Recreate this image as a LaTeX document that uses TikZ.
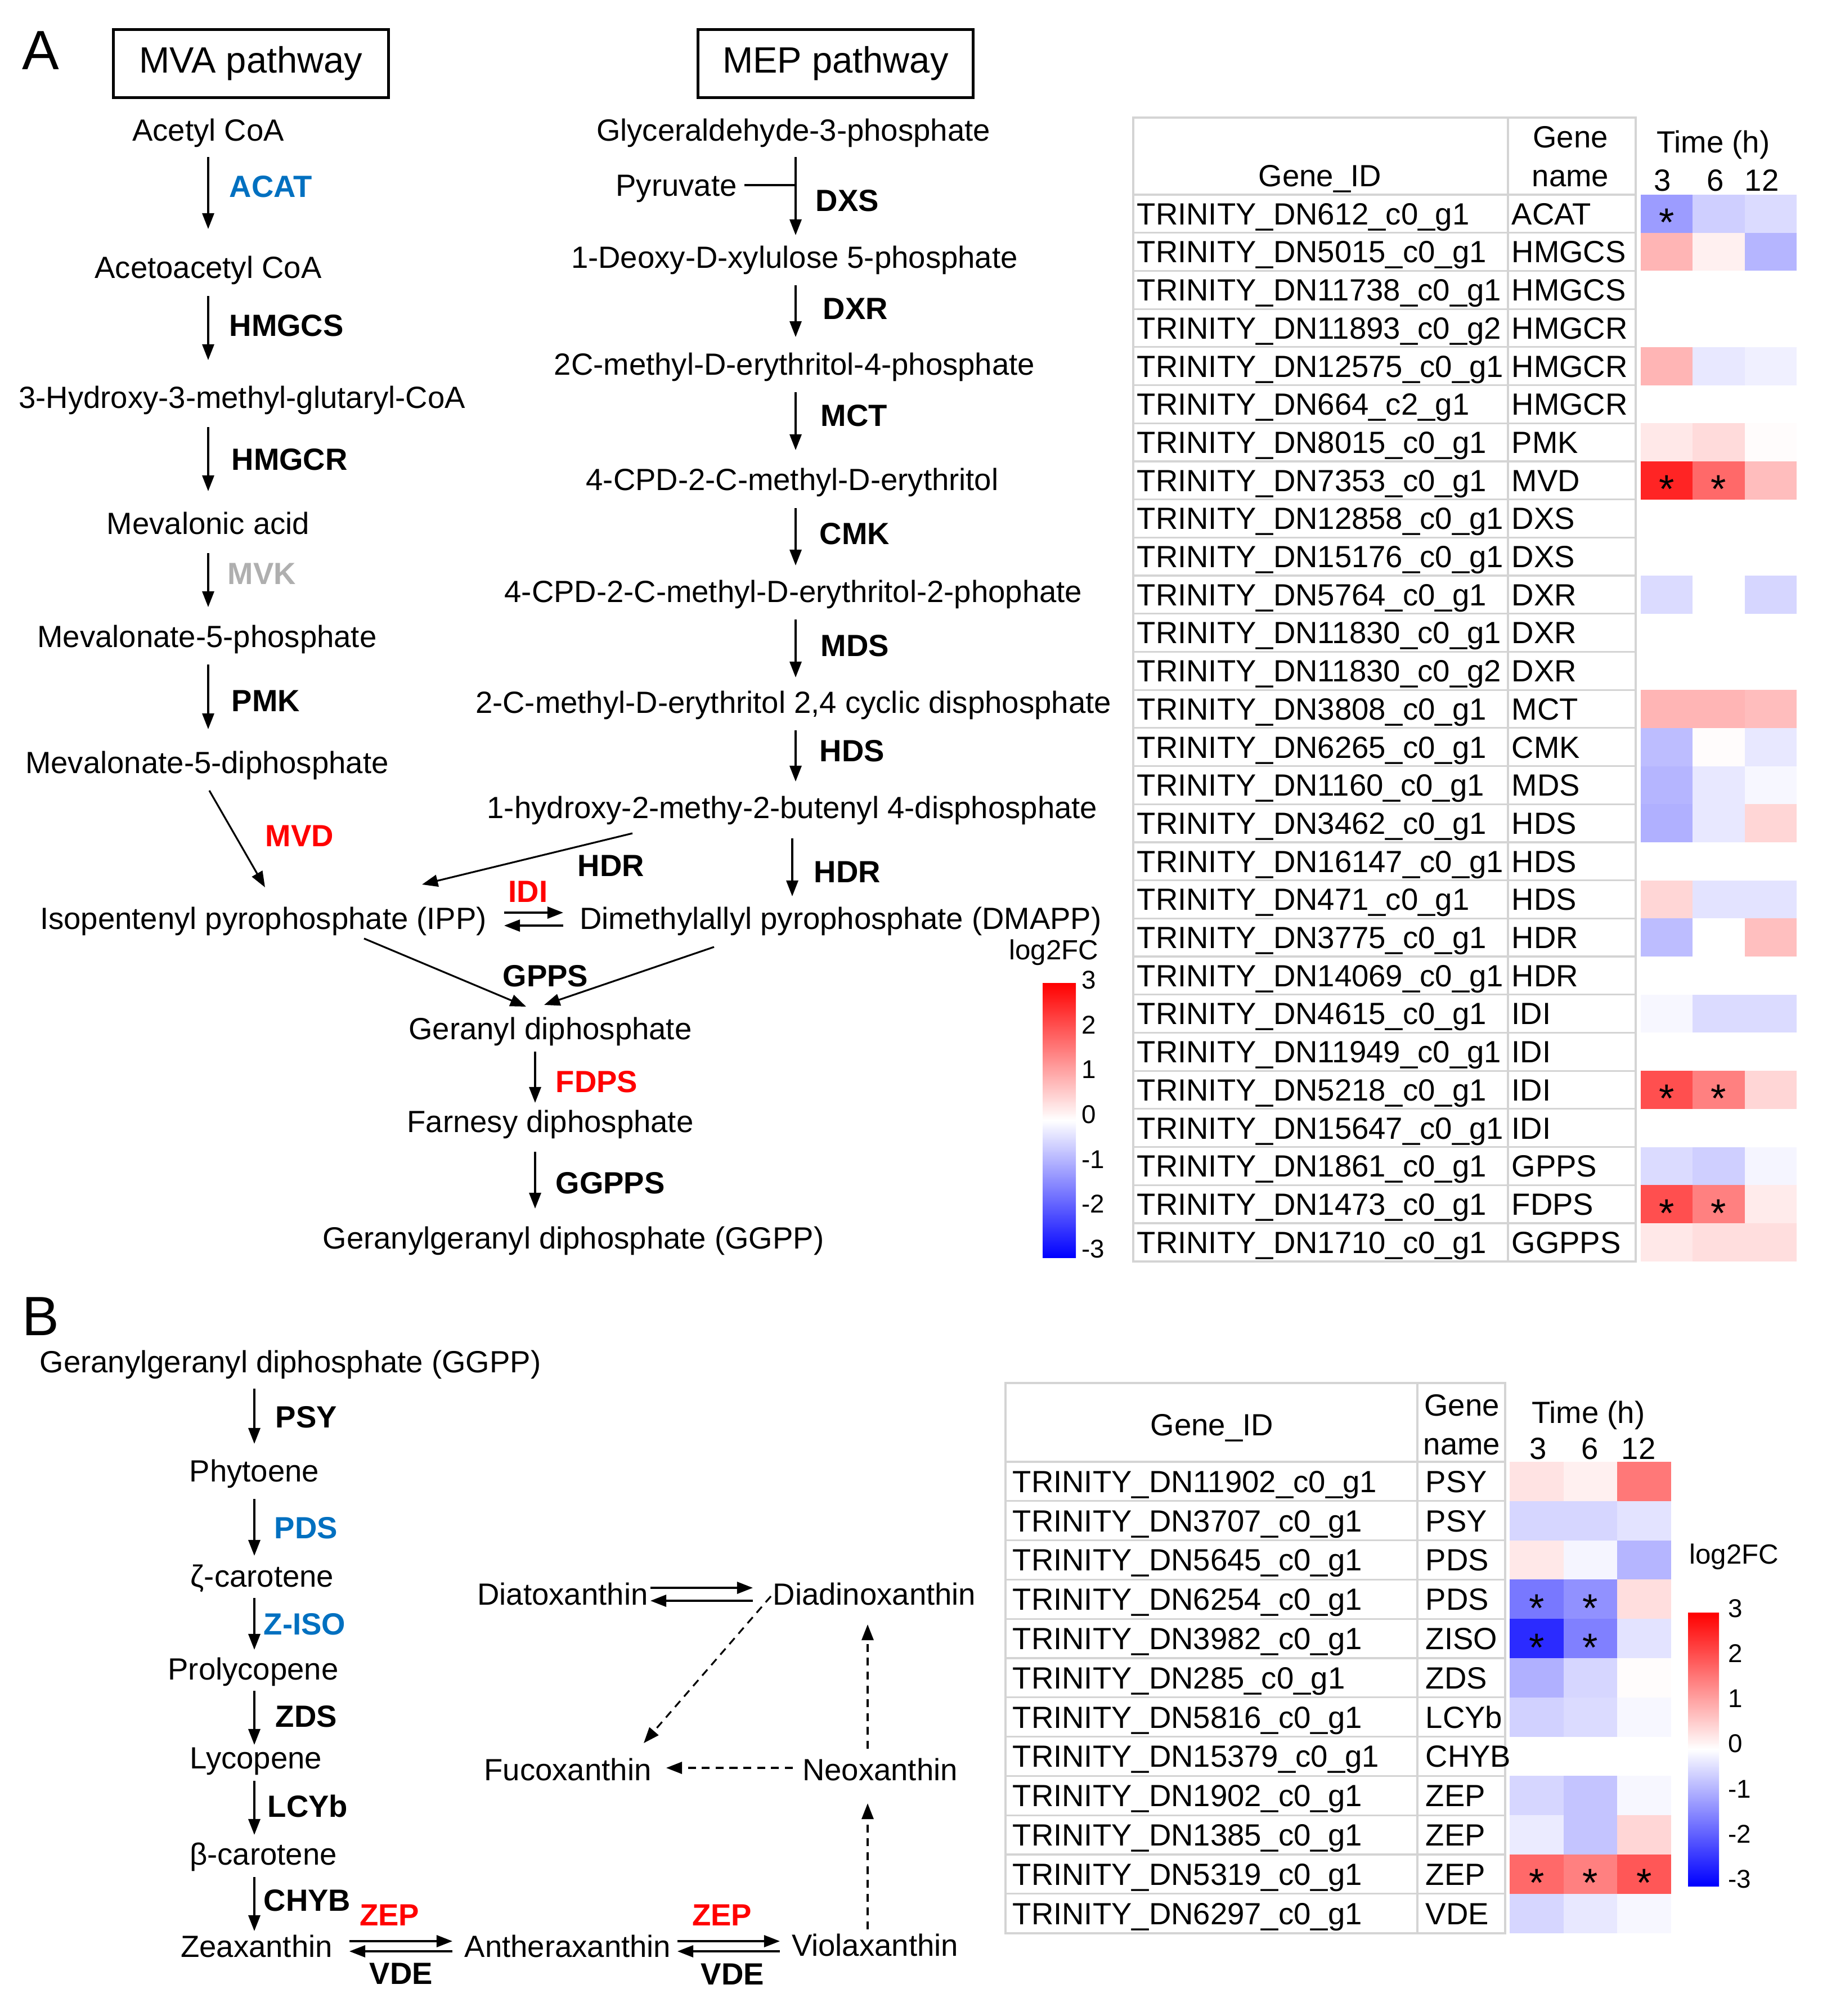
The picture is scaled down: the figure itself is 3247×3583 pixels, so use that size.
\documentclass[tikz,border=0pt]{standalone}
\usepackage{fontspec}
\setmainfont{Liberation Sans}
\usetikzlibrary{arrows.meta,calc}
\definecolor{eblue}{RGB}{0,112,192}
\definecolor{egray}{RGB}{175,175,175}
\definecolor{gridc}{RGB}{212,212,212}
\newcommand\fs{\fontsize{15.5pt}{18pt}\selectfont}
\newcommand\fsb{\fontsize{15.5pt}{18pt}\selectfont\bfseries}
\newcommand\fst{\fontsize{13pt}{15pt}\selectfont}
\newcommand\hmcell[5]{%
  \pgfmathsetmacro\hv{#5}%
  \pgfmathtruncatemacro\hp{abs(\hv)/3*100}%
  \ifdim \hv pt<0pt \def\hc{blue}\else\def\hc{red}\fi
  \fill[\hc!\hp!white] (#1,#2) rectangle ++(#3,#4);
}
\begin{document}
\begin{tikzpicture}[x=0.01cm,y=-0.01cm,
  txt/.style={font=\fs, inner sep=0pt, text height=11pt, text depth=0pt},
  enz/.style={font=\fsb, inner sep=0pt, text height=11pt, text depth=0pt, anchor=west},
  enzc/.style={font=\fsb, inner sep=0pt, text height=11pt, text depth=0pt},
  tbl/.style={font=\fs, inner sep=0pt, text height=11pt, text depth=0pt, anchor=west},
  tick/.style={font=\fst, inner sep=0pt, text height=9.3pt, text depth=0pt, anchor=west},
  ast/.style={font=\fontsize{20pt}{20pt}\selectfont, inner sep=0pt, anchor=base},
  arr/.style={line width=0.9pt, -{Triangle[length=8pt,width=6pt]}},
  darr/.style={arr, dash pattern=on 4pt off 3pt},
  sh/.style 2 args={shorten <=#1, shorten >=#2},
  grid/.style={draw=gridc, line width=0.9pt},
  pbox/.style={draw, line width=1.4pt, font=\fontsize{18.5pt}{22pt}\selectfont, minimum width=4.89cm, minimum height=1.21cm, inner sep=0pt},
  panel/.style={font=\fontsize{28pt}{32pt}\selectfont, inner sep=0pt, text height=20pt, text depth=0pt}]
\useasboundingbox (0,0) rectangle (3247,3583);
\fill[white] (0,0) rectangle (3247,3583);

% ---------------- Panel A ----------------
\node[panel] (pA) at (72,88) {A};
\node[pbox] (mvabox) at (446,113) {MVA pathway};
\node[pbox] (mepbox) at (1485,113) {MEP pathway};

% MVA
\node[txt] (acetyl) at (370,231) {Acetyl CoA};
\node[txt] (acetoacetyl) at (370,475) {Acetoacetyl CoA};
\node[txt] (hmg) at (430,706) {3-Hydroxy-3-methyl-glutaryl-CoA};
\node[txt] (mevac) at (370,930) {Mevalonic acid};
\node[txt] (m5p) at (368,1131) {Mevalonate-5-phosphate};
\node[txt] (m5pp) at (368,1355) {Mevalonate-5-diphosphate};
\node[txt] (ipp) at (468,1632) {Isopentenyl pyrophosphate (IPP)};

\node[enz, text=eblue] (acat) at (407,331) {ACAT};
\node[enz] (hmgcs) at (407,578) {HMGCS};
\node[enz] (hmgcr) at (411,816) {HMGCR};
\node[enz, text=egray] (mvk) at (404,1019) {MVK};
\node[enz] (pmk) at (411,1245) {PMK};
\node[enz, text=red] (mvd) at (471,1485) {MVD};

\coordinate (mvax) at (370,0);
\draw[arr, sh={0.48cm}{0.68cm}] (acetyl.center -| mvax) -- (acetoacetyl.center -| mvax);
\draw[arr, sh={0.51cm}{0.66cm}] (acetoacetyl.center -| mvax) -- (hmg.center -| mvax);
\draw[arr, sh={0.53cm}{0.57cm}] (hmg.center -| mvax) -- (mevac.center -| mvax);
\draw[arr, sh={0.53cm}{0.52cm}] (mevac.center -| mvax) -- (m5p.center -| mvax);
\draw[arr, sh={0.50cm}{0.59cm}] (m5p.center -| mvax) -- (m5pp.center -| mvax);
\draw[arr] ([shift={(4,50)}]m5pp.center) -- ([shift={(3,-55)}]ipp.center);

% MEP
\node[txt] (glyc) at (1410,231) {Glyceraldehyde-3-phosphate};
\node[txt] (pyr) at (1202,329) {Pyruvate};
\node[txt] (dxp) at (1412,457) {1-Deoxy-D-xylulose 5-phosphate};
\node[txt] (mep4p) at (1412,647) {2C-methyl-D-erythritol-4-phosphate};
\node[txt] (cdpme) at (1408,852) {4-CPD-2-C-methyl-D-erythritol};
\node[txt] (cdpmep) at (1410,1051) {4-CPD-2-C-methyl-D-erythritol-2-phophate};
\node[txt] (mecpp) at (1410,1248) {2-C-methyl-D-erythritol 2,4 cyclic disphosphate};
\node[txt] (hmbpp) at (1408,1435) {1-hydroxy-2-methy-2-butenyl 4-disphosphate};
\node[txt] (dmapp) at (1494,1632) {Dimethylallyl pyrophosphate (DMAPP)};
\node[txt] (gpp) at (978,1828) {Geranyl diphosphate};
\node[txt] (fpp) at (978,1993) {Farnesy diphosphate};
\node[txt] (ggpp) at (1019,2200) {Geranylgeranyl diphosphate (GGPP)};

\node[enz] (dxs) at (1449,356) {DXS};
\node[enz] (dxr) at (1462,548) {DXR};
\node[enz] (mct) at (1458,738) {MCT};
\node[enz] (cmk) at (1456,948) {CMK};
\node[enz] (mds) at (1458,1147) {MDS};
\node[enz] (hds) at (1456,1334) {HDS};
\node[enz] (hdra) at (1026,1538) {HDR};
\node[enz] (hdrb) at (1446,1549) {HDR};
\node[enz, text=red] (idi) at (903,1584) {IDI};
\node[enz] (gpps) at (893,1734) {GPPS};
\node[enz, text=red] (fdps) at (987,1922) {FDPS};
\node[enz] (ggpps) at (987,2102) {GGPPS};

\coordinate (mepx) at (1414,0);
\draw[arr, sh={0.48cm}{0.39cm}] (glyc.center -| mepx) -- (dxp.center -| mepx);
\draw[line width=0.9pt, shorten <=0.13cm] (pyr.east) -- (pyr.east -| mepx);
\draw[arr, sh={0.50cm}{0.48cm}] (dxp.center -| mepx) -- (mep4p.center -| mepx);
\draw[arr, sh={0.50cm}{0.52cm}] (mep4p.center -| mepx) -- (cdpme.center -| mepx);
\draw[arr, sh={0.51cm}{0.46cm}] (cdpme.center -| mepx) -- (cdpmep.center -| mepx);
\draw[arr, sh={0.50cm}{0.44cm}] (cdpmep.center -| mepx) -- (mecpp.center -| mepx);
\draw[arr, sh={0.50cm}{0.46cm}] (mecpp.center -| mepx) -- (hmbpp.center -| mepx);
\draw[arr, sh={0.55cm}{0.39cm}] (hmbpp.center) -- (hmbpp.center |- dmapp.center);
\draw[arr] ([shift={(-284,46)}]hmbpp.center) -- ([shift={(282,-60)}]ipp.center);
\draw[arr] ([shift={(428,-10)}]ipp.center) -- ([shift={(-493,-10)}]dmapp.center);
\draw[arr] ([shift={(-493,13)}]dmapp.center) -- ([shift={(428,13)}]ipp.center);
\draw[arr] ([shift={(179,36)}]ipp.center) -- ([shift={(-43,-39)}]gpp.center);
\draw[arr] ([shift={(-225,51)}]dmapp.center) -- ([shift={(-11,-42)}]gpp.center);
\coordinate (gx) at (951,0);
\draw[arr, sh={0.41cm}{0.33cm}] (gpp.center -| gx) -- (fpp.center -| gx);
\draw[arr, sh={0.54cm}{0.52cm}] (fpp.center -| gx) -- (ggpp.center -| gx);

% colorbar A
\shade[top color=red, bottom color=blue, middle color=white] (1853,1747) rectangle (1912,2235);
\node[font=\fontsize{14pt}{16pt}\selectfont, inner sep=0pt, text height=10pt, text depth=2pt] (lfca) at (1873,1691) {log2FC};
\foreach \t [count=\k from 0] in {3,2,1,0,-1,-2,-3}
  \node[tick] (cba-\k) at (1922,{1741+79.7*\k}) {\t};

% table A
\draw[grid] (2014,209) rectangle (2907,2242);
\draw[grid] (2680,209) -- (2680,2242);
\foreach \k in {0,...,27} \draw[grid] (2014,{346+67.7*\k}) -- (2907,{346+67.7*\k});
\foreach \a/\b/\c [count=\k from 0] in {
 -1.2/-0.6/-0.45, 0.9/0.2/-0.9, 0/0/0, 0/0/0, 0.9/-0.3/-0.2, 0/0/0, 0.3/0.45/0.05,
 2.6/1.8/0.8, 0/0/0, 0/0/0, -0.45/0/-0.5, 0/0/0, 0/0/0, 0.9/0.9/0.8, -0.8/0.05/-0.3,
 -0.9/-0.3/-0.1, -0.95/-0.3/0.5, 0/0/0, 0.5/-0.35/-0.35, -0.8/0/0.75, 0/0/0,
 -0.1/-0.45/-0.45, 0/0/0, 2.1/1.5/0.5, 0/0/0, -0.45/-0.6/-0.15, 2.1/1.5/0.25, 0.3/0.4/0.4} {
  \pgfmathsetmacro\yy{346+67.7*\k}
  \hmcell{2916}{\yy}{92.8}{68.2}{\a}
  \hmcell{3008.3}{\yy}{92.8}{68.2}{\b}
  \hmcell{3100.6}{\yy}{92.3}{68.2}{\c}
}
\node[txt] (tah1) at (2346,312) {Gene\_ID};
\node[txt] (tah2) at (2791,243) {Gene};
\node[txt] (tah3) at (2791,312) {name};
\node[txt] (tah4) at (3045,252) {Time (h)};
\node[txt] (tat1) at (2955,320) {3};
\node[txt] (tat2) at (3049,320) {6};
\node[txt] (tat3) at (3131,320) {12};
\foreach \id/\nm [count=\k from 0] in {
 TRINITY\_DN612\_c0\_g1/ACAT, TRINITY\_DN5015\_c0\_g1/HMGCS, TRINITY\_DN11738\_c0\_g1/HMGCS,
 TRINITY\_DN11893\_c0\_g2/HMGCR, TRINITY\_DN12575\_c0\_g1/HMGCR, TRINITY\_DN664\_c2\_g1/HMGCR,
 TRINITY\_DN8015\_c0\_g1/PMK, TRINITY\_DN7353\_c0\_g1/MVD, TRINITY\_DN12858\_c0\_g1/DXS,
 TRINITY\_DN15176\_c0\_g1/DXS, TRINITY\_DN5764\_c0\_g1/DXR, TRINITY\_DN11830\_c0\_g1/DXR,
 TRINITY\_DN11830\_c0\_g2/DXR, TRINITY\_DN3808\_c0\_g1/MCT, TRINITY\_DN6265\_c0\_g1/CMK,
 TRINITY\_DN1160\_c0\_g1/MDS, TRINITY\_DN3462\_c0\_g1/HDS, TRINITY\_DN16147\_c0\_g1/HDS,
 TRINITY\_DN471\_c0\_g1/HDS, TRINITY\_DN3775\_c0\_g1/HDR, TRINITY\_DN14069\_c0\_g1/HDR,
 TRINITY\_DN4615\_c0\_g1/IDI, TRINITY\_DN11949\_c0\_g1/IDI, TRINITY\_DN5218\_c0\_g1/IDI,
 TRINITY\_DN15647\_c0\_g1/IDI, TRINITY\_DN1861\_c0\_g1/GPPS, TRINITY\_DN1473\_c0\_g1/FDPS,
 TRINITY\_DN1710\_c0\_g1/GGPPS} {
  \pgfmathsetmacro\yy{346+67.7*\k+33.85}
  \node[tbl] (taid-\k) at (2020,\yy) {\id};
  \node[tbl] (tanm-\k) at (2686,\yy) {\nm};
}
\foreach \r/\c in {0/0, 7/0, 7/1, 23/0, 23/1, 26/0, 26/1}
  \node[ast] (asta-\r-\c) at ({2916+92.3*\c+46.2},{346+67.7*\r+33.85+40}) {*};

% ---------------- Panel B ----------------
\node[panel] (pB) at (72,2338) {B};
\node[txt] (bggpp) at (516,2420) {Geranylgeranyl diphosphate (GGPP)};
\node[txt] (phy) at (452,2614) {Phytoene};
\node[txt] (zcar) at (466,2801) {ζ-carotene};
\node[txt] (proly) at (450,2966) {Prolycopene};
\node[txt] (lyc) at (455,3124) {Lycopene};
\node[txt] (bcar) at (468,3295) {β-carotene};
\node[txt] (zea) at (456,3459) {Zeaxanthin};
\node[txt] (anth) at (1009,3459) {Antheraxanthin};
\node[txt] (viol) at (1555,3457) {Violaxanthin};
\node[txt] (diato) at (1000,2833) {Diatoxanthin};
\node[txt] (diadino) at (1554,2833) {Diadinoxanthin};
\node[txt] (fuco) at (1009,3145) {Fucoxanthin};
\node[txt] (neo) at (1564,3145) {Neoxanthin};

\node[enz] (psy) at (489,2518) {PSY};
\node[enz, text=eblue] (pds) at (487,2715) {PDS};
\node[enz, text=eblue] (ziso) at (468,2886) {Z-ISO};
\node[enz] (zds) at (489,3050) {ZDS};
\node[enz] (lcyb) at (475,3210) {LCYb};
\node[enz] (chyb) at (468,3377) {CHYB};
\node[enzc, text=red] (zepa) at (692,3403) {ZEP};
\node[enzc] (vdea) at (713,3507) {VDE};
\node[enzc, text=red] (zepb) at (1283,3403) {ZEP};
\node[enzc] (vdeb) at (1302,3508) {VDE};

\coordinate (bx) at (452,0);
\draw[arr, sh={0.48cm}{0.48cm}] (bggpp.center -| bx) -- (phy.center -| bx);
\draw[arr, sh={0.50cm}{0.36cm}] (phy.center -| bx) -- (zcar.center -| bx);
\draw[arr, sh={0.39cm}{0.34cm}] (zcar.center -| bx) -- (proly.center -| bx);
\draw[arr, sh={0.39cm}{0.23cm}] (proly.center -| bx) -- (lyc.center -| bx);
\draw[arr, sh={0.41cm}{0.34cm}] (lyc.center -| bx) -- (bcar.center -| bx);
\draw[arr, sh={0.41cm}{0.27cm}] (bcar.center -| bx) -- (zea.center -| bx);

\draw[arr] ([shift={(165,-9)}]zea.center) -- ([shift={(-205,-9)}]anth.center);
\draw[arr] ([shift={(-205,9)}]anth.center) -- ([shift={(165,9)}]zea.center);
\draw[arr] ([shift={(195,-9)}]anth.center) -- ([shift={(-169,-7)}]viol.center);
\draw[arr] ([shift={(-169,11)}]viol.center) -- ([shift={(195,9)}]anth.center);
\draw[arr] ([shift={(156,-11)}]diato.center) -- ([shift={(-216,-11)}]diadino.center);
\draw[arr] ([shift={(-216,12)}]diadino.center) -- ([shift={(156,12)}]diato.center);
\draw[darr] ([shift={(-184,4)}]diadino.center) -- ([shift={(135,-47)}]fuco.center);
\draw[darr] ([shift={(-155,-3)}]neo.center) -- ([shift={(175,-3)}]fuco.center);
\draw[darr] ([shift={(-13,-28)}]viol.center) -- ([shift={(-22,60)}]neo.center);
\draw[darr] ([shift={(-22,-37)}]neo.center) -- ([shift={(-12,54)}]diadino.center);

% table B
\draw[grid] (1787,2458) rectangle (2675,3436);
\draw[grid] (2519,2458) -- (2519,3436);
\foreach \k in {0,...,11} \draw[grid] (1787,{2598+69.8*\k}) -- (2675,{2598+69.8*\k});
\foreach \a/\b/\c [count=\k from 0] in {
 0.35/0.2/1.6, -0.5/-0.5/-0.35, 0.3/-0.15/-0.9, -1.6/-1.3/0.4, -2.5/-1.5/-0.35,
 -0.95/-0.5/0.05, -0.55/-0.45/-0.1, 0/0/0, -0.5/-0.7/-0.1, -0.25/-0.7/0.5,
 1.8/1.5/2.0, -0.5/-0.3/-0.1} {
  \pgfmathsetmacro\yy{2598+69.8*\k}
  \hmcell{2683}{\yy}{96.2}{70.3}{\a}
  \hmcell{2778.7}{\yy}{96.2}{70.3}{\b}
  \hmcell{2874.4}{\yy}{95.7}{70.3}{\c}
}
\node[txt] (tbh1) at (2154,2532) {Gene\_ID};
\node[txt] (tbh2) at (2598,2497) {Gene};
\node[txt] (tbh3) at (2598,2566) {name};
\node[txt] (tbh4) at (2823,2510) {Time (h)};
\node[txt] (tbt1) at (2734,2574) {3};
\node[txt] (tbt2) at (2826,2574) {6};
\node[txt] (tbt3) at (2912,2574) {12};
\foreach \id/\nm [count=\k from 0] in {
 TRINITY\_DN11902\_c0\_g1/PSY, TRINITY\_DN3707\_c0\_g1/PSY, TRINITY\_DN5645\_c0\_g1/PDS,
 TRINITY\_DN6254\_c0\_g1/PDS, TRINITY\_DN3982\_c0\_g1/ZISO, TRINITY\_DN285\_c0\_g1/ZDS,
 TRINITY\_DN5816\_c0\_g1/LCYb, TRINITY\_DN15379\_c0\_g1/CHYB, TRINITY\_DN1902\_c0\_g1/ZEP,
 TRINITY\_DN1385\_c0\_g1/ZEP, TRINITY\_DN5319\_c0\_g1/ZEP, TRINITY\_DN6297\_c0\_g1/VDE} {
  \pgfmathsetmacro\yy{2598+69.8*\k+34.9}
  \node[tbl] (tbid-\k) at (1799,\yy) {\id};
  \node[tbl] (tbnm-\k) at (2533,\yy) {\nm};
}
\foreach \r/\c in {3/0, 3/1, 4/0, 4/1, 10/0, 10/1, 10/2}
  \node[ast] (astb-\r-\c) at ({2683+95.7*\c+47.9},{2598+69.8*\r+34.9+40}) {*};

% colorbar B
\shade[top color=red, bottom color=blue, middle color=white] (3000,2866) rectangle (3055,3352);
\node[font=\fontsize{14pt}{16pt}\selectfont, inner sep=0pt, text height=10pt, text depth=2pt] (lfcb) at (3082,2765) {log2FC};
\foreach \t [count=\k from 0] in {3,2,1,0,-1,-2,-3}
  \node[tick] (cbb-\k) at (3071,{2858+80.2*\k}) {\t};
\end{tikzpicture}
\end{document}
